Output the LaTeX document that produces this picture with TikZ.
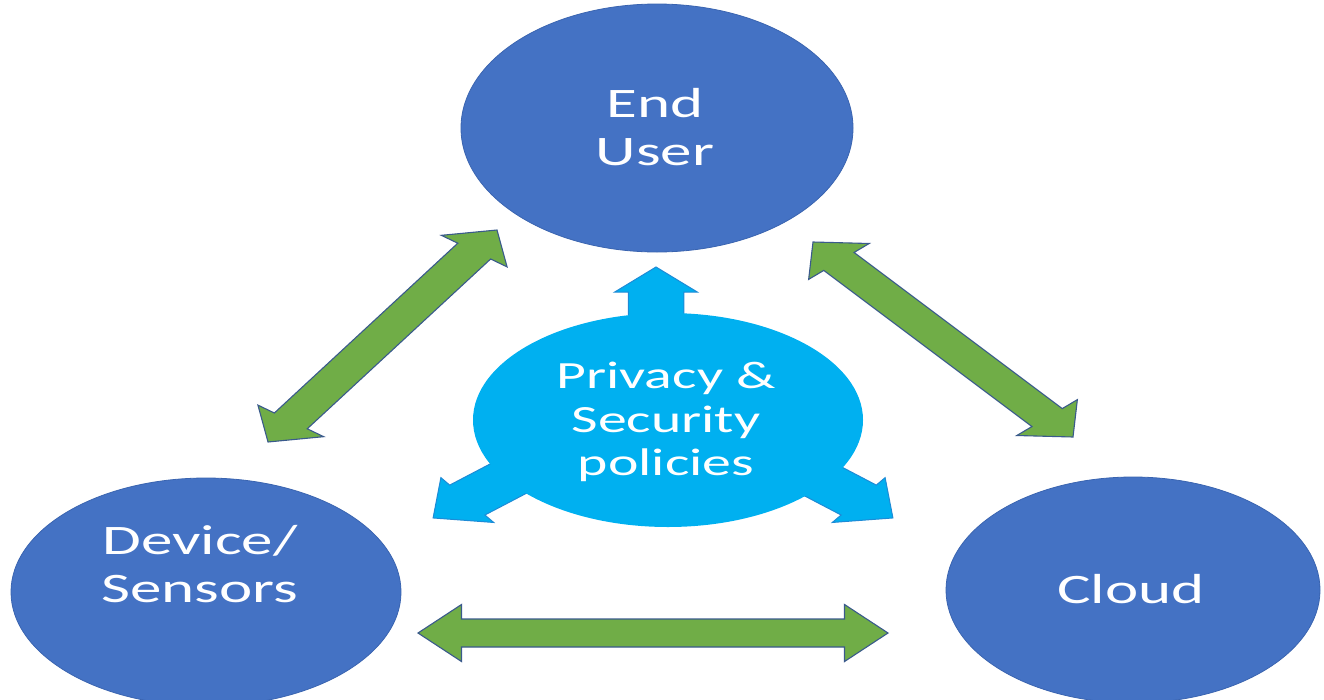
\documentclass[tikz,border=0pt]{standalone}
\usepackage{fontspec}
\setmainfont{Carlito}
\usetikzlibrary{shapes.geometric,calc}
\definecolor{dblue}{HTML}{4472C4}
\definecolor{dblueline}{HTML}{3A64B0}
\definecolor{cyanf}{HTML}{00B0F0}
\definecolor{cyanline}{HTML}{1E8BD6}
\definecolor{gfill}{HTML}{70AD47}
\definecolor{gline}{HTML}{3A5A8C}
\newdimen\arAx \newdimen\arAy \newdimen\arBx \newdimen\arBy
% relative moves in the horizontally stretched (x 1.5) frame of an arrow
\newcommand\mv[2]{-- ++({1.5*((#1)*cos(\arang)-(#2)*sin(\arang))*1pt},{((#1)*sin(\arang)+(#2)*cos(\arang))*1pt})}
\newcommand\mvv[2]{++({1.5*((#1)*cos(\arang)-(#2)*sin(\arang))*1pt},{((#1)*sin(\arang)+(#2)*cos(\arang))*1pt})}
\newcommand\arsetup[2]{%
  \pgfextractx\arAx{\pgfpointanchor{#1}{center}}%
  \pgfextracty\arAy{\pgfpointanchor{#1}{center}}%
  \pgfextractx\arBx{\pgfpointanchor{#2}{center}}%
  \pgfextracty\arBy{\pgfpointanchor{#2}{center}}%
  \pgfmathsetmacro\arang{atan2(\arBy-\arAy,(\arBx-\arAx)/1.5)}%
  \pgfmathsetmacro\arlen{veclen((\arBx-\arAx)/1.5,\arBy-\arAy)}}
% double block arrow: #1,#2 tips, #3 head length, #4 head half width, #5 shaft half width, #6 style
\newcommand\dblarrow[6]{%
  \arsetup{#1}{#2}%
  \path[#6] (#1) \mv{#3}{#4} \mv{0}{-(#4)+(#5)} \mv{\arlen-2*(#3)}{0} \mv{0}{(#4)-(#5)} \mv{#3}{-(#4)}
    \mv{-(#3)}{-(#4)} \mv{0}{(#4)-(#5)} \mv{-\arlen+2*(#3)}{0} \mv{0}{-(#4)+(#5)} -- cycle;}
% single block arrow: #1 base, #2 tip
\newcommand\sglarrow[6]{%
  \arsetup{#1}{#2}%
  \path[#6] (#1) \mvv{0}{#5} \mv{\arlen-(#3)}{0} \mv{0}{(#4)-(#5)} \mv{#3}{-(#4)}
    \mv{-(#3)}{-(#4)} \mv{0}{(#4)-(#5)} \mv{-\arlen+(#3)}{0} -- cycle;}
\tikzset{
  bigell/.style={ellipse, fill=dblue, draw=dblueline, line width=0.8pt, inner sep=0pt, outer sep=0pt},
  pvell/.style={ellipse, fill=cyanf, inner sep=0pt, outer sep=0pt},
  garrow/.style={fill=gfill, draw=gline, line width=1.1pt, line join=miter},
  barrow/.style={fill=cyanf, draw=cyanline, line width=1pt, line join=miter},
  txt/.style={text=white, align=center, xscale=1.5, inner sep=0pt, font=\fontsize{42}{48}\selectfont},
  ptxt/.style={text=white, align=center, xscale=1.5, inner sep=0pt, font=\fontsize{38.5}{43.5}\selectfont}
}
\begin{document}
\begin{tikzpicture}[x=1pt, y=-1pt]
\useasboundingbox (0,0) rectangle (1324,699);
% main nodes
\node[bigell, minimum width=392pt, minimum height=248pt] (eu) at (657,128) {};
\node[bigell, minimum width=390pt, minimum height=228pt] (ds) at (206,592) {};
\node[bigell, minimum width=374pt, minimum height=226pt] (cl) at (1133,590) {};
\node[txt] (eut) at (655,127) {End\\User};
\node[txt] (dst) at (200,564) {Device/\\Sensors};
\node[txt] (clt) at (1131,589) {Cloud};
% green connectors
\coordinate (g1a) at (497,230);
\coordinate (g1b) at (268,442);
\coordinate (g2a) at (813,242);
\coordinate (g2b) at (1073,437);
\coordinate (g3a) at (418,633);
\coordinate (g3b) at (888,633);
\dblarrow{g1a}{g1b}{26}{27}{13.5}{garrow}
\dblarrow{g2a}{g2b}{26}{27}{13.5}{garrow}
\dblarrow{g3a}{g3b}{29}{28.5}{14}{garrow}
% central policies shape
\coordinate (bu0) at (656,345);
\coordinate (bu1) at (656,267);
\coordinate (bl0) at (540,462);
\coordinate (bl1) at (433,518);
\coordinate (br0) at (786,462);
\coordinate (br1) at (893,518);
\sglarrow{bu0}{bu1}{25}{27.5}{18.5}{barrow}
\sglarrow{bl0}{bl1}{29}{28.5}{19}{barrow}
\sglarrow{br0}{br1}{29}{28.5}{19}{barrow}
\node[pvell, minimum width=390pt, minimum height=214pt] (pv) at (668,420) {};
\node[ptxt] (pvt) at (666,422) {Privacy \&\\Security\\policies};
\end{tikzpicture}
\end{document}
